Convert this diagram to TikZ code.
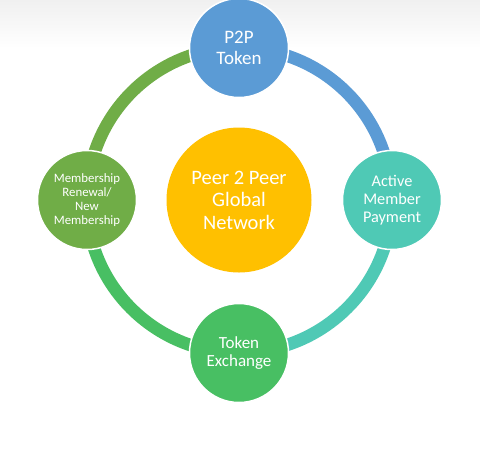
\documentclass[tikz,border=0pt]{standalone}
\usepackage{fontspec}
\setmainfont{Carlito}
\usetikzlibrary{backgrounds}
\definecolor{cblue}{HTML}{5B9BD5}
\definecolor{cteal}{HTML}{4FC9B5}
\definecolor{cgreen}{HTML}{48BF63}
\definecolor{colive}{HTML}{70AD47}
\definecolor{cyellow}{HTML}{FFC000}
\definecolor{cband}{HTML}{F0F0F0}
\tikzset{
  bubble/.style={circle, draw=white, line width=1.5pt, text=white, align=center, inner sep=0pt, minimum size=99pt},
  ringarc/.style={line width=12.5pt},
}
\begin{document}
\begin{tikzpicture}[x=1pt,y=1pt]
\useasboundingbox (0,0) rectangle (480,-467);
\coordinate (c) at (239,-200);
\node[bubble, fill=cyellow, minimum size=145pt, font=\fontsize{20.5}{22.5}\selectfont, draw=none] (hub) at (c) {Peer 2 Peer\\Global\\Network};
\node[bubble, fill=cblue, font=\fontsize{19}{20.5}\selectfont] (top) at (239,-48) {P2P\\Token};
\node[bubble, fill=cteal, font=\fontsize{16.3}{17.8}\selectfont] (right) at (392,-200) {Active\\Member\\Payment};
\node[bubble, fill=cgreen, font=\fontsize{17}{18}\selectfont] (bottom) at (239,-353) {Token\\Exchange};
\node[bubble, fill=colive, font=\fontsize{12.8}{14}\selectfont] (left) at (87,-200) {Membership\\Renewal/\\New\\Membership};
\begin{pgfonlayer}{background}
\fill[white] (0,0) rectangle (480,-467);
\shade[top color=cband, bottom color=white] (0,0) rectangle (480,-48);
\draw[ringarc, cblue] (top.center) arc[start angle=90, end angle=0, radius=152.5];
\draw[ringarc, cteal] (right.center) arc[start angle=0, end angle=-90, radius=152.5];
\draw[ringarc, cgreen] (bottom.center) arc[start angle=-90, end angle=-180, radius=152.5];
\draw[ringarc, colive] (left.center) arc[start angle=180, end angle=90, radius=152.5];
\end{pgfonlayer}
\end{tikzpicture}
\end{document}
